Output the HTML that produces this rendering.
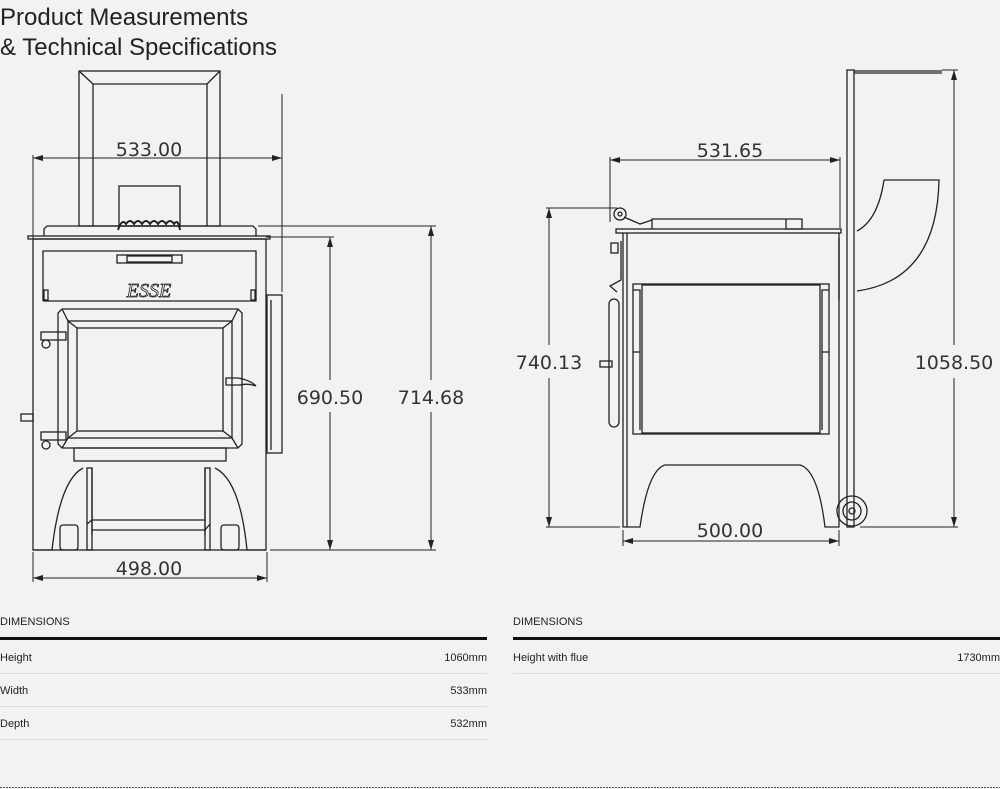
<!DOCTYPE html>
<html><head><meta charset="utf-8"><style>
html,body{margin:0;padding:0;background:#f2f2f2;width:1000px;height:789px;overflow:hidden}
svg{position:absolute;left:0;top:0}
.t{font-family:"Liberation Sans Narrow","Liberation Sans",sans-serif;font-size:11px;fill:#222}
.d{font-family:"DejaVu Sans","Liberation Sans",sans-serif;font-size:19px;fill:#333}
</style></head><body>
<svg width="1000" height="789" viewBox="0 0 1000 789" xmlns="http://www.w3.org/2000/svg">
<defs>
<marker id="a" viewBox="0 0 10 6" refX="10" refY="3" markerWidth="10" markerHeight="6" orient="auto-start-reverse" markerUnits="userSpaceOnUse"><path d="M0,0 L10,3 L0,6 z" fill="#222"/></marker>
</defs>
<text x="0" y="25" font-family="Liberation Sans,sans-serif" font-size="24" fill="#222">Product Measurements</text>
<text x="0" y="55" font-family="Liberation Sans,sans-serif" font-size="24" fill="#222">&amp; Technical Specifications</text>

<g fill="none" stroke="#222" stroke-width="1.3">
<rect x="79" y="71" width="141" height="155"/>
<path d="M93,226 V84 H207 V226 M79,71 L93,84 M220,71 L207,84"/>
<rect x="119" y="186" width="61" height="40"/>
<path d="M118,230 q4,-12 8,-6 q4,-6 8,0 q4,-6 8,0 q4,-6 8,0 q4,-6 8,0 q4,-6 8,0 q4,-6 8,0 q4,-6 6,6" stroke-width="2"/>
<path d="M44,236 V229 L47,226 H253 L256,229 V236"/>
<rect x="28" y="236" width="242" height="3"/>
<rect x="33" y="239" width="233" height="311"/>
<path d="M43,301 V251 H256 V301 H43"/>
<rect x="117" y="255" width="65" height="8"/>
<rect x="127" y="256" width="45" height="6"/>
<text x="149" y="297" font-family="Liberation Serif,serif" font-style="italic" font-size="20" fill="none" stroke="#222" stroke-width="0.8" text-anchor="middle">ESSE</text>
<rect x="44" y="290" width="4" height="10"/><rect x="251" y="290" width="4" height="10"/>
<path d="M62,309 H238 L242,313 V444 L238,448 H62 L58,444 V313 Z"/>
<rect x="68" y="321" width="164" height="117"/>
<rect x="77" y="328" width="146" height="103"/>
<path d="M62,309 L68,321 M238,309 L232,321 M62,448 L68,438 M238,448 L232,438 M68,321 L77,328 M232,321 L223,328 M68,438 L77,431 M232,438 L223,431"/>
<rect x="41" y="332" width="25" height="8"/><circle cx="46" cy="344" r="4"/>
<rect x="41" y="432" width="25" height="8"/><circle cx="46" cy="445" r="4"/>
<path d="M226,378 h12 q12,2 18,8 q-8,-3 -16,-1 h-14 z"/>
<rect x="21" y="414" width="12" height="7"/>
<rect x="74" y="448" width="152" height="13"/>
<rect x="267" y="295" width="15" height="158"/>
<path d="M271,300 V450"/>
<rect x="87" y="468" width="5" height="82"/><rect x="205" y="468" width="5" height="82"/>
<path d="M92,468 V535 M205,468 V535 M92,520 H205 M92,530 H205 M87,524 L92,520 M210,524 L205,530"/>
<path d="M33,550 L52,550 Q60,480 83,468 M266,550 L247,550 Q240,480 215,468"/>
<rect x="60" y="525" width="18" height="25" rx="3"/><rect x="221" y="525" width="18" height="25" rx="3"/>
</g>

<g fill="none" stroke="#222" stroke-width="1">
<path d="M33,239 V155 M282,292 V94"/>
<path d="M33,158 H282" marker-start="url(#a)" marker-end="url(#a)"/>
<path d="M33,552 V582 M267,552 V582"/>
<path d="M33,578 H267" marker-start="url(#a)" marker-end="url(#a)"/>
<path d="M258,226 H436 M270,550 H436 M266,237 H334"/>
<path d="M330,380 V237" marker-end="url(#a)"/><path d="M330,412 V550" marker-end="url(#a)"/>
<path d="M431,380 V226" marker-end="url(#a)"/><path d="M431,412 V550" marker-end="url(#a)"/>
</g>
<text class="d" x="149" y="156" text-anchor="middle">533.00</text>
<text class="d" x="149" y="575" text-anchor="middle">498.00</text>
<text class="d" x="330" y="404" text-anchor="middle">690.50</text>
<text class="d" x="431" y="404" text-anchor="middle">714.68</text>

<g fill="none" stroke="#222" stroke-width="1.3">
<rect x="616" y="229" width="225" height="4"/>
<path d="M623,233 V527 H640 Q648,470 665,465 H800 Q818,470 825,527 H839 V233"/>
<path d="M627,233 V527"/>
<path d="M652,229 V219 H786 V229 M786,219 V229 H802 V219 H786"/>
<circle cx="620" cy="214" r="6"/><circle cx="620" cy="214" r="2"/>
<path d="M624,217 L640,224 L652,220"/>
<rect x="633" y="284" width="196" height="150"/>
<rect x="642" y="285" width="178" height="148"/>
<path d="M633,290 H640 V430 M829,290 H822 V430 M633,352 H640 M829,352 H822"/>
<rect x="609" y="299" width="10" height="128" rx="5"/>
<rect x="611" y="243" width="7" height="10"/>
<path d="M621,241 V280 L610,286 L617,292"/>
<rect x="600" y="361" width="12" height="6"/>
<rect x="847" y="70" width="7" height="457"/>
<path d="M854,71 H942 M854,73 H942"/>
<path d="M884,180 H939 Q937,280 857,291 M884,180 Q878,220 857,231"/>
<path d="M839,238 V300"/>
<circle cx="852" cy="511" r="15"/><circle cx="852" cy="511" r="9"/><circle cx="852" cy="511" r="3"/>
</g>
<g fill="none" stroke="#222" stroke-width="1">
<path d="M610,157 V222 M840,157 V228"/>
<path d="M610,160 H840" marker-start="url(#a)" marker-end="url(#a)"/>
<path d="M546,208 H617 M546,527 H620"/>
<path d="M549,345 V208" marker-end="url(#a)"/><path d="M549,378 V527" marker-end="url(#a)"/>
<path d="M942,70 H958 M860,527 H958"/>
<path d="M954,345 V70" marker-end="url(#a)"/><path d="M954,378 V527" marker-end="url(#a)"/>
<path d="M623,530 V546 M839,530 V546"/>
<path d="M623,541 H839" marker-start="url(#a)" marker-end="url(#a)"/>
</g>
<text class="d" x="730" y="157" text-anchor="middle">531.65</text>
<text class="d" x="549" y="369" text-anchor="middle">740.13</text>
<text class="d" x="954" y="369" text-anchor="middle">1058.50</text>
<text class="d" x="730" y="537" text-anchor="middle">500.00</text>

<text class="t" x="0" y="625">DIMENSIONS</text>
<text class="t" x="513" y="625">DIMENSIONS</text>
<rect x="0" y="637" width="487" height="3" fill="#111"/>
<rect x="513" y="637" width="487" height="3" fill="#111"/>
<text class="t" x="0" y="661">Height</text><text class="t" x="487" y="661" text-anchor="end">1060mm</text>
<rect x="0" y="673" width="487" height="1" fill="#ddd"/>
<text class="t" x="0" y="694">Width</text><text class="t" x="487" y="694" text-anchor="end">533mm</text>
<rect x="0" y="706" width="487" height="1" fill="#ddd"/>
<text class="t" x="0" y="727">Depth</text><text class="t" x="487" y="727" text-anchor="end">532mm</text>
<rect x="0" y="739" width="487" height="1" fill="#ddd"/>
<text class="t" x="513" y="661">Height with flue</text><text class="t" x="1000" y="661" text-anchor="end">1730mm</text>
<rect x="513" y="673" width="487" height="1" fill="#ddd"/>
<line x1="0" y1="787.5" x2="1000" y2="787.5" stroke="#555" stroke-width="1" stroke-dasharray="2,1"/>
</svg>
</body></html>
